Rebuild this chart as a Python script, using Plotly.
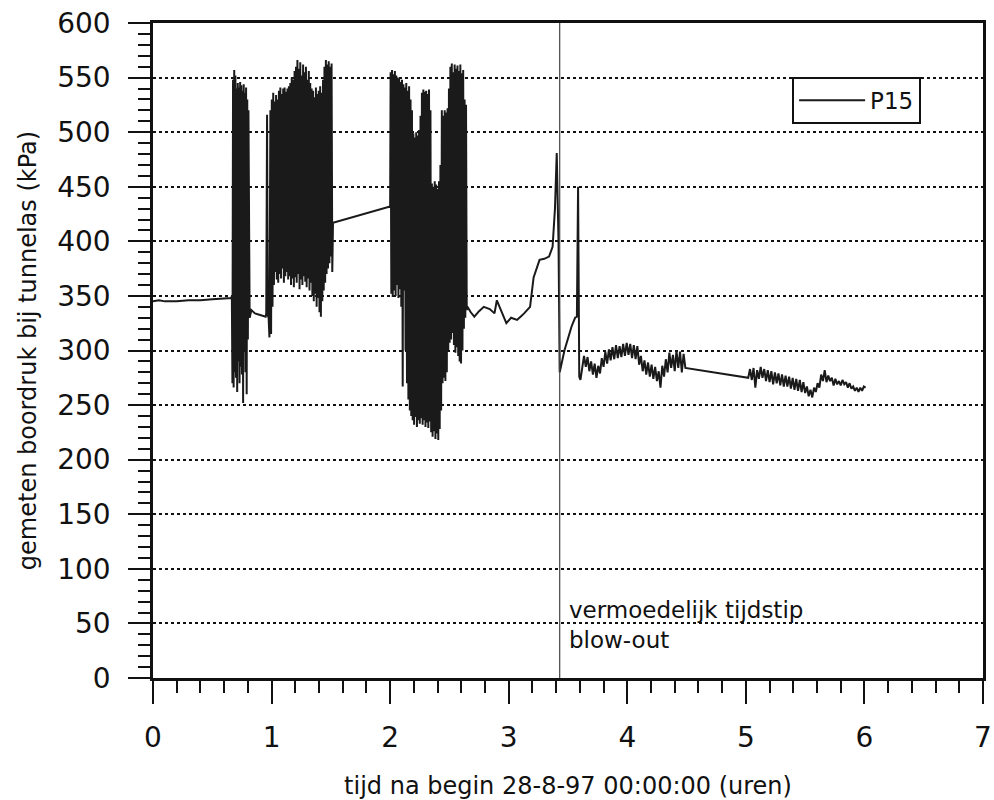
import plotly.graph_objects as go

# ---------------- data ----------------
# flat start
t_start = [0.00, 0.05, 0.10, 0.20, 0.30, 0.40, 0.50, 0.60, 0.66]
p_start = [345, 346, 345, 345, 346, 346, 347, 348, 348]

# first oscillation burst
t_burst1 = [0.665, 0.670, 0.675, 0.680, 0.685, 0.690, 0.695, 0.700, 0.705, 0.710,
            0.715, 0.720, 0.725, 0.730, 0.735, 0.740, 0.745, 0.750, 0.755, 0.760,
            0.765, 0.770, 0.775, 0.780, 0.785, 0.790, 0.795, 0.800, 0.805, 0.810]
p_burst1 = [350, 270, 548, 266, 557, 280, 552, 275, 540, 262,
            545, 290, 541, 270, 546, 285, 543, 278, 538, 252,
            544, 300, 536, 280, 541, 260, 530, 310, 520, 335]

# quiet part between bursts
t_gap1 = [0.815, 0.83, 0.86, 0.89, 0.92, 0.95, 0.955, 0.962, 0.968, 0.975, 0.982]
p_gap1 = [330, 337, 334, 333, 332, 331, 334, 516, 332, 330, 312]

# second oscillation burst
t_burst2 = [0.990, 0.996, 1.002, 1.008, 1.014, 1.020, 1.026, 1.032, 1.038, 1.044,
            1.050, 1.056, 1.062, 1.068, 1.074, 1.080, 1.086, 1.092, 1.098, 1.104,
            1.110, 1.116, 1.122, 1.128, 1.134, 1.140, 1.146, 1.152, 1.158, 1.164,
            1.170, 1.176, 1.182, 1.188, 1.194, 1.200, 1.206, 1.212, 1.218, 1.224,
            1.230, 1.236, 1.242, 1.248, 1.254, 1.260, 1.266, 1.272, 1.278, 1.284,
            1.290, 1.296, 1.302, 1.308, 1.314, 1.320, 1.326, 1.332, 1.338, 1.344,
            1.350, 1.356, 1.362, 1.368, 1.374, 1.380, 1.386, 1.392, 1.398, 1.404,
            1.410, 1.416, 1.422, 1.428, 1.434, 1.440, 1.446, 1.452, 1.458, 1.464,
            1.470, 1.476, 1.482, 1.488, 1.494, 1.500, 1.506, 1.512, 1.518]
p_burst2 = [520, 315, 530, 340, 536, 360, 528, 372, 534, 365,
            530, 362, 538, 370, 541, 366, 535, 375, 540, 362,
            541, 368, 537, 372, 540, 365, 542, 368, 545, 360,
            550, 366, 548, 358, 556, 367, 560, 362, 566, 370,
            558, 356, 564, 365, 552, 360, 562, 368, 555, 363,
            560, 358, 548, 366, 556, 355, 545, 362, 540, 350,
            538, 345, 532, 352, 541, 340, 535, 348, 538, 335,
            542, 331, 536, 345, 548, 355, 560, 362, 566, 370,
            562, 375, 565, 380, 560, 386, 563, 372, 417]

# straight connection (data gap)
t_gap2 = [2.000]
p_gap2 = [432]

# third oscillation burst
t_burst3 = [2.004, 2.010, 2.016, 2.022, 2.028, 2.034, 2.040, 2.046, 2.052, 2.058,
            2.064, 2.070, 2.076, 2.082, 2.088, 2.094, 2.100, 2.106, 2.112, 2.118,
            2.124, 2.130, 2.136, 2.142, 2.148, 2.154, 2.160, 2.166, 2.172, 2.178,
            2.184, 2.190, 2.196, 2.202, 2.208, 2.214, 2.220, 2.226, 2.232, 2.238,
            2.244, 2.250, 2.256, 2.262, 2.268, 2.274, 2.280, 2.286, 2.292, 2.298,
            2.304, 2.310, 2.316, 2.322, 2.328, 2.334, 2.340, 2.346, 2.352, 2.358,
            2.364, 2.370, 2.376, 2.382, 2.388, 2.394, 2.400, 2.406, 2.412, 2.418,
            2.424, 2.430, 2.436, 2.442, 2.448, 2.454, 2.460, 2.466, 2.472, 2.478,
            2.484, 2.490, 2.496, 2.502, 2.508, 2.514, 2.520, 2.526, 2.532, 2.538,
            2.544, 2.550, 2.556, 2.562, 2.568, 2.574, 2.580, 2.586, 2.592, 2.598,
            2.604, 2.610, 2.616, 2.622, 2.628, 2.634, 2.640, 2.646, 2.652]
p_burst3 = [555, 352, 557, 349, 553, 355, 556, 350, 552, 360,
            550, 348, 549, 356, 546, 340, 548, 267, 544, 355,
            541, 300, 545, 270, 538, 255, 542, 245, 530, 240,
            520, 236, 499, 232, 495, 239, 500, 230, 497, 236,
            502, 233, 515, 238, 536, 232, 539, 236, 537, 230,
            538, 234, 535, 229, 539, 235, 520, 225, 453, 221,
            450, 226, 455, 219, 452, 224, 448, 218, 455, 228,
            470, 245, 520, 270, 515, 275, 520, 272, 518, 280,
            522, 300, 540, 307, 560, 310, 563, 316, 555, 305,
            562, 298, 558, 303, 561, 295, 556, 290, 562, 288,
            554, 300, 557, 320, 530, 330, 525, 337, 340]

# wavy part and blow-out spikes
t_mid = [2.68, 2.71, 2.75, 2.79, 2.84, 2.88, 2.90, 2.94, 2.98, 3.02,
         3.07, 3.10, 3.13, 3.18, 3.21, 3.26, 3.30, 3.34, 3.37, 3.39,
         3.405, 3.42, 3.43, 3.47, 3.53, 3.56, 3.575, 3.585, 3.595, 3.605]
p_mid = [335, 331, 336, 340, 338, 334, 346, 335, 325, 330,
         328, 331, 334, 340, 367, 383, 384, 386, 395, 430,
         481, 400, 280, 300, 322, 330, 331, 450, 276, 273]

# after blow-out
t_after1 = [3.620, 3.635, 3.650, 3.665, 3.680, 3.695, 3.710, 3.725, 3.740, 3.755,
            3.770, 3.785, 3.800, 3.815, 3.830, 3.845, 3.860, 3.875, 3.890, 3.905,
            3.920, 3.935, 3.950, 3.965, 3.980, 3.995, 4.010, 4.025, 4.040, 4.055,
            4.070, 4.085, 4.100, 4.115, 4.130, 4.145, 4.160, 4.175, 4.190, 4.205,
            4.220, 4.235, 4.250, 4.265, 4.280, 4.295, 4.310, 4.325, 4.340, 4.355,
            4.370, 4.385, 4.400, 4.415, 4.430, 4.445, 4.460, 4.475, 4.490]
p_after1 = [283, 295, 285, 294, 281, 290, 278, 288, 275, 286,
            279, 293, 285, 299, 288, 301, 291, 303, 292, 305,
            293, 304, 294, 306, 295, 307, 296, 306, 293, 305,
            292, 304, 287, 295, 281, 291, 278, 289, 276, 287,
            274, 285, 272, 281, 266, 286, 276, 292, 280, 298,
            284, 296, 281, 300, 284, 299, 280, 297, 284]

t_after2 = [5.020, 5.035, 5.050, 5.065, 5.080, 5.095, 5.110, 5.125, 5.140, 5.155,
            5.170, 5.185, 5.200, 5.215, 5.230, 5.245, 5.260, 5.275, 5.290, 5.305,
            5.320, 5.335, 5.350, 5.365, 5.380, 5.395, 5.410, 5.425, 5.440, 5.455,
            5.470, 5.485, 5.500, 5.515, 5.530, 5.545, 5.560, 5.575, 5.590, 5.605,
            5.620, 5.635, 5.650, 5.665, 5.680, 5.695, 5.710, 5.725, 5.740, 5.755,
            5.770, 5.785, 5.800, 5.815, 5.830, 5.845, 5.860, 5.875, 5.890, 5.905,
            5.920, 5.935, 5.950, 5.965, 5.980, 5.995, 6.010]
p_after2 = [275, 283, 273, 284, 266, 282, 274, 285, 275, 283,
            272, 282, 271, 281, 269, 280, 270, 279, 268, 278,
            267, 277, 267, 276, 265, 275, 264, 274, 263, 273,
            262, 271, 261, 267, 258, 264, 257, 266, 262, 270,
            266, 278, 272, 282, 271, 277, 272, 275, 268, 274,
            269, 272, 268, 273, 269, 271, 266, 270, 265, 267,
            263, 266, 262, 266, 263, 267, 266]

blowout_time = 3.43
x_ticks = [0, 1, 2, 3, 4, 5, 6, 7]
y_ticks = [0, 50, 100, 150, 200, 250, 300, 350, 400, 450, 500, 550, 600]

# ---------------- figure ----------------
t_all = (t_start + t_burst1 + t_gap1 + t_burst2 + t_gap2 + t_burst3
         + t_mid + t_after1 + t_after2)
p_all = (p_start + p_burst1 + p_gap1 + p_burst2 + p_gap2 + p_burst3
         + p_mid + p_after1 + p_after2)

FONT = "DejaVu Sans"

fig = go.Figure()
fig.add_trace(go.Scatter(
    x=t_all, y=p_all, mode="lines", name="P15",
    line=dict(color="#1a1a1a", width=2),
))

fig.add_shape(type="line", xref="x", yref="paper",
              x0=blowout_time, x1=blowout_time, y0=0, y1=1,
              line=dict(color="#444444", width=1.2))

fig.add_annotation(x=blowout_time + 0.06, y=62, xref="x", yref="y",
                   text="vermoedelijk tijdstip", showarrow=False,
                   xanchor="left", yanchor="middle",
                   font=dict(family=FONT, size=23, color="#111"))
fig.add_annotation(x=blowout_time + 0.06, y=35, xref="x", yref="y",
                   text="blow-out", showarrow=False,
                   xanchor="left", yanchor="middle",
                   font=dict(family=FONT, size=23, color="#111"))

fig.update_layout(
    width=994, height=800,
    margin=dict(l=153, r=2, t=23, b=122),
    paper_bgcolor="white", plot_bgcolor="white",
    font=dict(family=FONT, color="#111"),
    showlegend=True,
    legend=dict(x=0.770, y=0.918, xanchor="left", yanchor="top",
                bgcolor="white", bordercolor="#111", borderwidth=2,
                itemwidth=66,
                font=dict(family=FONT, size=23)),
    xaxis=dict(
        range=[0, 7], tickvals=x_ticks, ticktext=[str(v) for v in x_ticks],
        showgrid=False, zeroline=False,
        showline=True, linecolor="#111", linewidth=2.5, mirror=True,
        ticks="outside", ticklen=23, tickwidth=2, tickcolor="#111",
        minor=dict(dtick=0.2, ticks="outside", ticklen=12, tickwidth=2,
                   tickcolor="#111", showgrid=False),
        tickfont=dict(family=FONT, size=28),
        ticklabelstandoff=10, ticklabeloverflow="allow",
        title=dict(text="tijd na begin 28-8-97 00:00:00 (uren)",
                   font=dict(family=FONT, size=24), standoff=27),
    ),
    yaxis=dict(
        range=[0, 600], tickvals=y_ticks, ticktext=[str(v) for v in y_ticks],
        showgrid=True, gridcolor="#111", gridwidth=2, griddash="dot",
        zeroline=False,
        showline=True, linecolor="#111", linewidth=2.5, mirror=True,
        ticks="outside", ticklen=22, tickwidth=2, tickcolor="#111",
        minor=dict(dtick=10, ticks="outside", ticklen=12, tickwidth=2,
                   tickcolor="#111", showgrid=False),
        tickfont=dict(family=FONT, size=28),
        ticklabelstandoff=12,
        title=dict(text="gemeten boordruk bij tunnelas (kPa)",
                   font=dict(family=FONT, size=24), standoff=14),
    ),
)

fig.write_html("out.html",
               config={"displayModeBar": False},
               post_script="document.body.style.margin='0';")
